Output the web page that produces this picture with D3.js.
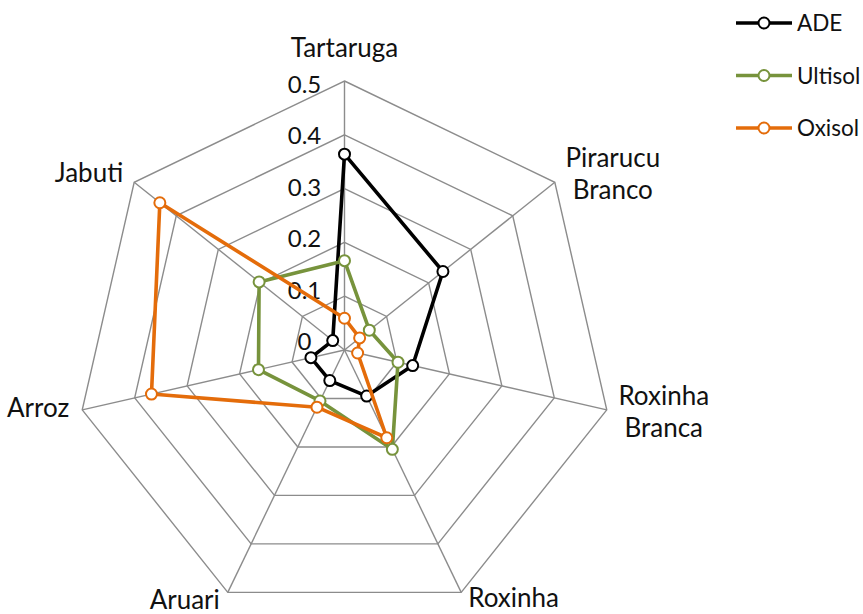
<!DOCTYPE html>
<html>
<head>
<meta charset="utf-8">
<script src="https://cdn.jsdelivr.net/npm/d3@7"></script>
<style>
  html, body { margin: 0; padding: 0; background: #fff; }
  svg { display: block; }
  text { font-family: Lato, "Open Sans", sans-serif; fill: #111; }
</style>
</head>
<body>
<svg id="chart" width="863" height="614"></svg>
<script>
// ---------- data ----------
const categories = ["Tartaruga", "Pirarucu Branco", "Roxinha Branca", "Roxinha", "Aruari", "Arroz", "Jabuti"];
const seriesNames = ["ADE", "Ultisol", "Oxisol"];
const adeValues     = [0.364, 0.234, 0.130, 0.095, 0.063, 0.064, 0.028];
const ultisolValues = [0.166, 0.059, 0.102, 0.205, 0.105, 0.164, 0.203];
const oxisolValues  = [0.059, 0.036, 0.025, 0.181, 0.118, 0.368, 0.439];
const tickValues = [0, 0.1, 0.2, 0.3, 0.4, 0.5];
const tickLabels = ["0", "0.1", "0.2", "0.3", "0.4", "0.5"];

// ---------- layout ----------
const W = 863, H = 614;
const cx = 344.5, cy = 350, R = 269;
const colors = { ADE: "#000000", Ultisol: "#77933C", Oxisol: "#E46C0A" };
const series = [
  { name: "ADE", values: adeValues },
  { name: "Ultisol", values: ultisolValues },
  { name: "Oxisol", values: oxisolValues }
];

const svg = d3.select("#chart");
const g = svg.append("g").attr("transform", `translate(${cx},${cy})`);

const r = d3.scaleLinear().domain([0, 0.5]).range([0, R]);
const angle = d3.scalePoint().domain(categories.concat(["__end"])).range([0, 2 * Math.PI]);
const pt = (cat, v) => {
  const a = angle(cat);
  return [Math.sin(a) * r(v), -Math.cos(a) * r(v)];
};

// grid rings
const gridColor = "#8c8c8c";
tickValues.filter(t => t > 0).forEach(t => {
  g.append("path")
    .attr("d", d3.line()(categories.map(c => pt(c, t))) + "Z")
    .attr("fill", "none")
    .attr("stroke", gridColor)
    .attr("stroke-width", 1.4);
});
// spokes
categories.forEach(c => {
  const [x, y] = pt(c, 0.5);
  g.append("line").attr("x1", 0).attr("y1", 0).attr("x2", x).attr("y2", y)
    .attr("stroke", gridColor).attr("stroke-width", 1.4);
});

// tick labels
g.selectAll("text.tick").data(tickValues).join("text")
  .attr("class", "tick")
  .attr("x", -40)
  .attr("y", d => -r(d) * 0.955)
  .attr("text-anchor", "middle")
  .attr("font-size", 24)
  .text((d, i) => tickLabels[i]);

// category labels (layout offsets relative to the outer vertex)
const labelLayout = {
  "Tartaruga":       { dx: 0,   dy: -24, anchor: "middle" },
  "Pirarucu Branco": { dx: 58,  dy: -15, anchor: "middle" },
  "Roxinha Branca":  { dx: 57,  dy: -5,  anchor: "middle" },
  "Roxinha":         { dx: 7,   dy: 15,  anchor: "start" },
  "Aruari":          { dx: -8,  dy: 17,  anchor: "end" },
  "Arroz":           { dx: -13, dy: 7,   anchor: "end" },
  "Jabuti":          { dx: -11, dy: 0,   anchor: "end" }
};
categories.forEach(c => {
  const [x, y] = pt(c, 0.5);
  const L = labelLayout[c];
  const words = c.split(" ");
  const t = g.append("text")
    .attr("x", x + L.dx).attr("y", y + L.dy)
    .attr("text-anchor", L.anchor)
    .attr("font-size", 26);
  words.forEach((w, i) => {
    t.append("tspan").attr("x", x + L.dx).attr("dy", i === 0 ? 0 : 32).text(w);
  });
});

// series
const line = d3.line();
series.forEach(s => {
  const pts = categories.map((c, i) => pt(c, s.values[i]));
  g.append("path")
    .attr("d", line(pts) + "Z")
    .attr("fill", "none")
    .attr("stroke", colors[s.name])
    .attr("stroke-width", 3.6)
    .attr("stroke-linejoin", "round");
  g.selectAll(null).data(pts).join("circle")
    .attr("cx", d => d[0]).attr("cy", d => d[1])
    .attr("r", 5.5)
    .attr("fill", "#fff")
    .attr("stroke", colors[s.name])
    .attr("stroke-width", 2);
});

// legend
const legend = svg.append("g").attr("transform", "translate(736,23)");
seriesNames.forEach((n, i) => {
  const lg = legend.append("g").attr("transform", `translate(0,${i * 52.5})`);
  lg.append("line").attr("x1", 0).attr("x2", 56).attr("y1", 0).attr("y2", 0)
    .attr("stroke", colors[n]).attr("stroke-width", 3.6);
  lg.append("circle").attr("cx", 28).attr("cy", 0).attr("r", 5.5)
    .attr("fill", "#fff").attr("stroke", colors[n]).attr("stroke-width", 2);
  lg.append("text").attr("x", 61).attr("y", 8).attr("font-size", 22.5).text(n);
});
</script>
</body>
</html>
